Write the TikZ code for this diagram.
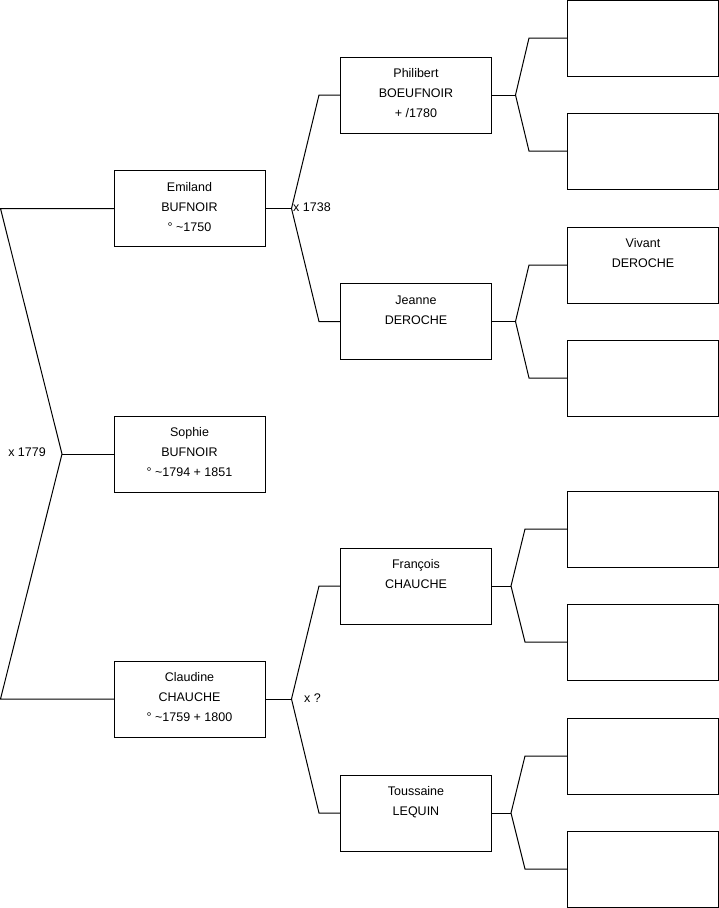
\documentclass[tikz,border=0pt]{standalone}
\usepackage{fontspec}
\setmainfont{Liberation Sans}
\newcommand{\personbox}[1]{\parbox[c][76pt][t]{151pt}{\centering\fontsize{12.5}{20}\selectfont\rule{0pt}{20.5pt}#1}}
\tikzset{
  person/.style={draw=black, line width=1pt, rectangle, inner sep=0pt, outer sep=0pt,
    minimum width=151pt, minimum height=76pt},
  link/.style={draw=black, line width=1pt, line join=miter},
  marr/.style={font=\fontsize{12.5}{14}\selectfont, inner sep=0pt}
}
\begin{document}
\begin{tikzpicture}[x=1pt,y=-1pt]
\useasboundingbox (0,0) rectangle (719,908);
% generation 1 and 2
\node[person] (emiland) at (189.5,208.5) {\personbox{Emiland\\BUFNOIR\\° \textasciitilde1750}};
\node[person] (sophie) at (189.5,454) {\personbox{Sophie\\BUFNOIR\\° \textasciitilde1794 + 1851}};
\node[person] (claudine) at (189.5,699) {\personbox{Claudine\\CHAUCHE\\° \textasciitilde1759 + 1800}};
% generation 3
\node[person] (philibert) at (416,95) {\personbox{Philibert\\BOEUFNOIR\\+ /1780}};
\node[person] (jeanne) at (416,321.5) {\personbox{Jeanne\\DEROCHE}};
\node[person] (francois) at (416,586) {\personbox{François\\CHAUCHE}};
\node[person] (toussaine) at (416,813) {\personbox{Toussaine\\LEQUIN}};
% generation 4
\node[person] (r1) at (643,38) {\personbox{}};
\node[person] (r2) at (643,151) {\personbox{}};
\node[person] (r3) at (643,265) {\personbox{Vivant\\DEROCHE}};
\node[person] (r4) at (643,378) {\personbox{}};
\node[person] (r5) at (643,529) {\personbox{}};
\node[person] (r6) at (643,642) {\personbox{}};
\node[person] (r7) at (643,756) {\personbox{}};
\node[person] (r8) at (643,869) {\personbox{}};
% left bracket
\coordinate (c1) at (0.5,208.5);
\coordinate (c2) at (0.5,699);
\coordinate (f0) at (62,454);
\draw[link] (emiland.west) -- (c1) -- (f0) -- (c2) -- (claudine.west);
\draw[link] (f0) -- (sophie.west);
\node[marr, anchor=east] (m0) at (46,452) {x 1779};
% Emiland fork
\coordinate (f1) at (291.5,208.5);
\coordinate (b1) at (319,95);
\coordinate (b2) at (319,321.5);
\draw[link] (emiland.east) -- (f1);
\draw[link] (philibert.west) -- (b1) -- (f1) -- (b2) -- (jeanne.west);
\node[marr, anchor=west] (m1) at (293,207) {x 1738};
% Claudine fork
\coordinate (f2) at (291.5,699);
\coordinate (b3) at (319,586);
\coordinate (b4) at (319,813);
\draw[link] (claudine.east) -- (f2);
\draw[link] (francois.west) -- (b3) -- (f2) -- (b4) -- (toussaine.west);
\node[marr, anchor=west] (m2) at (304,698) {x ?};
% Philibert fork
\coordinate (f3) at (515.5,95);
\coordinate (b5) at (529,38);
\coordinate (b6) at (529,151);
\draw[link] (philibert.east) -- (f3);
\draw[link] (r1.west) -- (b5) -- (f3) -- (b6) -- (r2.west);
% Jeanne fork
\coordinate (f4) at (515.5,321.5);
\coordinate (b7) at (529,265);
\coordinate (b8) at (529,378);
\draw[link] (jeanne.east) -- (f4);
\draw[link] (r3.west) -- (b7) -- (f4) -- (b8) -- (r4.west);
% Francois fork
\coordinate (f5) at (511,586);
\coordinate (b9) at (525,529);
\coordinate (b10) at (525,642);
\draw[link] (francois.east) -- (f5);
\draw[link] (r5.west) -- (b9) -- (f5) -- (b10) -- (r6.west);
% Toussaine fork
\coordinate (f6) at (511,813);
\coordinate (b11) at (525,756);
\coordinate (b12) at (525,869);
\draw[link] (toussaine.east) -- (f6);
\draw[link] (r7.west) -- (b11) -- (f6) -- (b12) -- (r8.west);
\end{tikzpicture}
\end{document}
